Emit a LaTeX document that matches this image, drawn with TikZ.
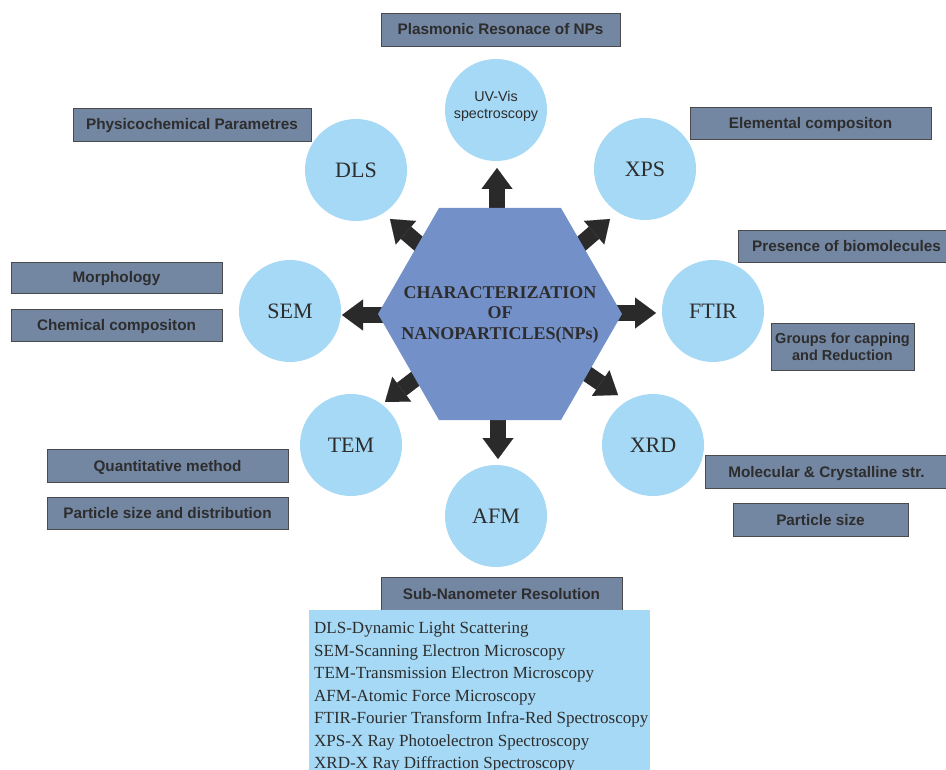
\documentclass[tikz,border=0pt]{standalone}
\usepackage{fontspec}
\setmainfont{Liberation Serif}
\setsansfont{Liberation Sans}
\usetikzlibrary{arrows.meta}
\definecolor{circc}{HTML}{A6D9F5}
\definecolor{hexc}{HTML}{7490C9}
\definecolor{boxc}{HTML}{7386A2}
\definecolor{boxline}{HTML}{4A4A4A}
\definecolor{txtc}{HTML}{2D2D2D}
\definecolor{arrc}{HTML}{2A2A2A}
\begin{document}
\begin{tikzpicture}[x=1pt,y=-1pt,
  tech/.style={circle,fill=circc,inner sep=0pt,minimum size=102pt,text=txtc,font=\fontsize{22}{24}\selectfont},
  labbox/.style={rectangle,fill=boxc,draw=boxline,line width=0.8pt,inner sep=0pt,text=txtc,align=center,text height=11pt,text depth=0pt,font=\sffamily\bfseries\fontsize{15.3}{17}\selectfont},
  bigarrow/.style={draw=arrc,line width=16pt,-{Triangle[length=21pt,width=31pt,line width=0.01pt]}},
  legtext/.style={anchor=base west,inner sep=0pt,text=txtc,font=\fontsize{17}{19}\selectfont}]
\useasboundingbox (0,0) rectangle (946,770);
\fill[white] (0,0) rectangle (946,770);

% centre and arrow tips
\coordinate (hc) at (500,314);
\coordinate (tU) at (497,168);
\coordinate (tD) at (498,459);
\coordinate (tL) at (342,315);
\coordinate (tR) at (656,313);
\coordinate (tNW) at (390,219);
\coordinate (tNE) at (610,219);
\coordinate (tSW) at (385,402);
\coordinate (tSE) at (618,395);

% technique circles
\node[tech] (uv) at (496,110) {};
\node[inner sep=0pt,align=center,text=txtc,font=\sffamily\fontsize{14.3}{17}\selectfont] (uvt) at (496,106) {UV-Vis\\spectroscopy};
\node[tech] (dls) at (356,170) {DLS};
\node[tech] (xps) at (645,169) {XPS};
\node[tech] (sem) at (290,311) {SEM};
\node[tech] (ftir) at (713,311) {FTIR};
\node[tech] (tem) at (351,445) {TEM};
\node[tech] (xrd) at (653,445) {XRD};
\node[tech] (afm) at (496,516) {AFM};

% arrows
\draw[bigarrow] (tU |- hc) -- (tU);
\draw[bigarrow] (tD |- hc) -- (tD);
\draw[bigarrow] (tL -| hc) -- (tL);
\draw[bigarrow] (tR -| hc) -- (tR);
\draw[bigarrow] (hc) -- (tNW);
\draw[bigarrow] (hc) -- (tNE);
\draw[bigarrow] (hc) -- (tSW);
\draw[bigarrow] (hc) -- (tSE);

% hexagon
\fill[hexc] ([shift={(-122,0)}]hc) -- ([shift={(-61,-106)}]hc) -- ([shift={(61,-106)}]hc)
  -- ([shift={(122,0)}]hc) -- ([shift={(61,106)}]hc) -- ([shift={(-61,106)}]hc) -- cycle;
\node[inner sep=0pt,align=center,text=txtc,font=\bfseries\fontsize{18}{20.5}\selectfont] (hex) at (500,314.5)
  {CHARACTERIZATION\\OF\\NANOPARTICLES(NPs)};

% label boxes
\node[labbox,minimum width=239pt,minimum height=33pt] (plas) at (500.5,29.5) {Plasmonic Resonace of NPs};
\node[labbox,minimum width=238pt,minimum height=33pt] (phys) at (192,124.5) {Physicochemical Parametres};
\node[labbox,minimum width=241pt,minimum height=32pt] (elem) at (810.5,123) {Elemental compositon};
\node[labbox,minimum width=217pt,minimum height=32pt] (pres) at (846.5,246) {Presence of biomolecules};
\node[labbox,minimum width=211pt,minimum height=31pt] (morph) at (116.5,277.5) {Morphology};
\node[labbox,minimum width=211pt,minimum height=32pt] (chem) at (116.5,325) {Chemical compositon};
\node[labbox,minimum width=143pt,minimum height=47pt,text height=,text depth=,font=\sffamily\bfseries\fontsize{14.5}{17}\selectfont] (grp) at (842.5,346.5) {Groups for capping\\and Reduction};
\node[labbox,minimum width=241pt,minimum height=33pt] (quant) at (167.5,465.5) {Quantitative method};
\node[labbox,minimum width=241pt,minimum height=32pt] (psd) at (167.5,513) {Particle size and distribution};
\node[labbox,minimum width=243pt,minimum height=33pt] (mol) at (826.5,471.5) {Molecular \& Crystalline str.};
\node[labbox,minimum width=175pt,minimum height=33pt] (psize) at (820.5,519.5) {Particle size};
\node[labbox,minimum width=241pt,minimum height=33pt] (subnm) at (501.5,593.5) {Sub-Nanometer Resolution};

% legend
\node[rectangle,fill=circc,inner sep=0pt,anchor=north west,minimum width=341pt,minimum height=170pt] (legend) at (309,610) {};
\foreach \t [count=\i] in {DLS-Dynamic Light Scattering,
  SEM-Scanning Electron Microscopy,
  TEM-Transmission Electron Microscopy,
  AFM-Atomic Force Microscopy,
  FTIR-Fourier Transform Infra-Red Spectroscopy,
  XPS-X Ray Photoelectron Spectroscopy,
  XRD-X Ray Diffraction Spectroscopy}
  \node[legtext,name=leg\i] at (314,{611+22.5*\i}) {\t};
\end{tikzpicture}
\end{document}
